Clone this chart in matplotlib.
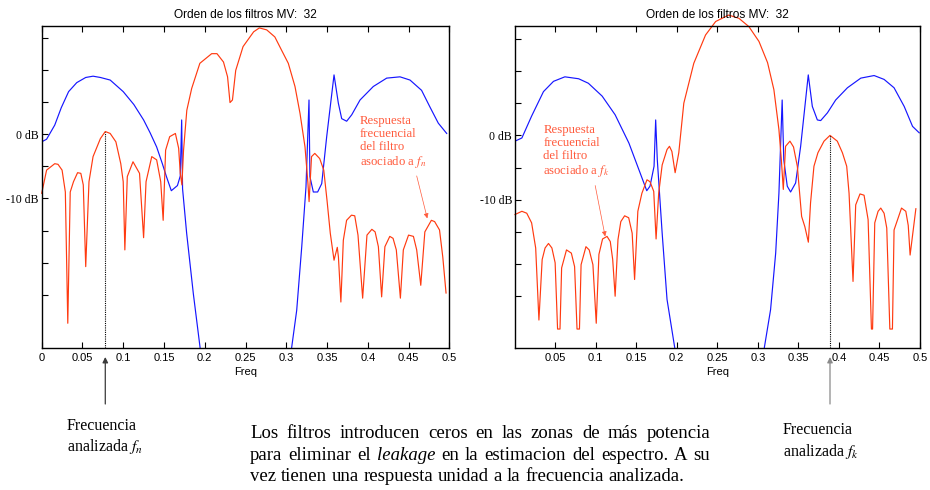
import matplotlib
matplotlib.use("Agg")
import matplotlib.pyplot as plt
import numpy as np

plt.rcParams["font.family"] = "sans-serif"
plt.rcParams["font.sans-serif"] = ["Liberation Sans", "DejaVu Sans"]
plt.rcParams["font.serif"] = ["Liberation Serif", "DejaVu Serif"]
plt.rcParams["mathtext.fontset"] = "stix"

# colores
_RED = "#ff3a10"
_RED_TXT = "#ff5a3c"
_BLUE = "#1616ff"

# ── Datos (frecuencia, dB) ─────────────────────────────────────────────────
blue_left = np.array([
    [0.000, -1.2], [0.006, -0.8], [0.016, 1.4], [0.024, 4.1], [0.033, 6.6],
    [0.043, 8.0], [0.054, 8.8], [0.063, 9.0], [0.072, 8.8], [0.084, 8.4],
    [0.100, 6.6], [0.113, 4.6], [0.125, 2.2], [0.133, 0.2], [0.141, -2.0],
    [0.148, -4.6], [0.153, -6.6], [0.159, -8.8], [0.1665, -8.0], [0.170, -6.5],
    [0.1717, 2.2], [0.1728, -8.5], [0.1778, -15.4], [0.186, -24.8], [0.1942, -33.1],
    [0.197, -37.0], [0.303, -37.0], [0.3067, -33.1], [0.3128, -27.4], [0.319, -17.5],
    [0.3242, -8.2], [0.3279, 5.3], [0.329, -6.6], [0.3332, -9.0], [0.3385, -9.0],
    [0.3435, -7.7], [0.3496, -0.4], [0.3586, 9.2], [0.3639, 4.8], [0.368, 2.4],
    [0.3741, 2.0], [0.3803, 3.0], [0.3905, 5.3], [0.4068, 7.4], [0.4232, 8.7],
    [0.4395, 8.9], [0.4518, 8.4], [0.466, 6.8], [0.4763, 4.2], [0.4865, 1.7],
    [0.4968, 0.1],
])

red_left = np.array([
    [0.000, -9.2], [0.006, -5.6], [0.016, -4.6], [0.020, -4.7], [0.025, -5.6],
    [0.029, -9.0], [0.032, -29.4], [0.035, -9.0], [0.039, -7.4], [0.044, -6.0],
    [0.048, -6.1], [0.051, -7.9], [0.054, -20.6], [0.058, -7.4], [0.063, -3.5],
    [0.072, -0.7], [0.078, 0.4], [0.084, 0.1], [0.091, -1.2], [0.097, -4.6],
    [0.100, -7.4], [0.102, -18.0], [0.105, -6.6], [0.112, -4.3], [0.120, -6.1],
    [0.125, -16.1], [0.128, -7.4], [0.135, -3.5], [0.141, -4.0], [0.146, -7.4],
    [0.149, -13.4], [0.152, -2.5], [0.157, -0.4], [0.164, 0.1], [0.168, -2.2],
    [0.170, -6.1], [0.172, -7.9], [0.174, -2.5], [0.178, 3.7], [0.184, 7.1],
    [0.194, 11.0], [0.2085, 12.5], [0.215, 12.5], [0.223, 11.2], [0.228, 8.9],
    [0.231, 4.9], [0.234, 5.3], [0.238, 9.9], [0.247, 13.6], [0.260, 15.9],
    [0.267, 16.5], [0.276, 16.2], [0.286, 15.1], [0.294, 13.1], [0.3025, 11.0],
    [0.3107, 7.4], [0.3169, 3.2], [0.323, -2.0], [0.3265, -7.5], [0.328, -10.5],
    [0.331, -3.5], [0.335, -3.0], [0.341, -3.8], [0.346, -5.6], [0.350, -10.3],
    [0.354, -15.4], [0.3586, -19.6], [0.3626, -17.6], [0.364, -19.1], [0.367, -26.1],
    [0.370, -16.5], [0.374, -13.4], [0.380, -12.6], [0.384, -12.7], [0.388, -15.7],
    [0.3937, -25.5], [0.399, -15.7], [0.405, -14.8], [0.409, -15.2], [0.413, -17.5],
    [0.417, -25.3], [0.421, -17.5], [0.427, -15.9], [0.431, -16.2], [0.435, -18.0],
    [0.440, -25.5], [0.4436, -18.0], [0.450, -15.7], [0.456, -15.9], [0.460, -18.0],
    [0.465, -23.5], [0.470, -15.2], [0.478, -13.4], [0.482, -13.6], [0.488, -14.9],
    [0.492, -19.1], [0.496, -24.7],
])

blue_right = np.array([
    [0.0005, -0.9], [0.009, -0.4], [0.021, 3.0], [0.0356, 6.8], [0.048, 8.4],
    [0.062, 9.1], [0.079, 8.8], [0.091, 8.1], [0.108, 6.1], [0.124, 3.2],
    [0.141, -1.2], [0.155, -5.9], [0.163, -8.6], [0.167, -7.9], [0.172, -4.8],
    [0.174, 2.4], [0.176, -3.8], [0.182, -15.2], [0.188, -25.5], [0.1975, -33.0],
    [0.200, -37.0], [0.305, -37.0], [0.308, -33.0], [0.3157, -27.1], [0.322, -18.3],
    [0.326, -9.0], [0.330, 5.5], [0.332, -3.8], [0.3363, -7.9], [0.3404, -8.8],
    [0.3466, -7.4], [0.3528, -1.7], [0.3622, 9.4], [0.3672, 4.5], [0.3734, 2.4],
    [0.3775, 2.3], [0.3858, 3.5], [0.396, 5.5], [0.4105, 7.4], [0.427, 8.9],
    [0.4434, 9.3], [0.4557, 8.7], [0.468, 7.4], [0.4805, 4.5], [0.4908, 1.4],
    [0.499, 0.4],
])

red_right = np.array([
    [0.0005, -12.3], [0.009, -11.8], [0.015, -12.1], [0.021, -13.6], [0.026, -17.5],
    [0.030, -28.7], [0.034, -19.3], [0.0376, -17.5], [0.0418, -16.8], [0.046, -17.5],
    [0.050, -19.8], [0.053, -30.1], [0.056, -30.1], [0.058, -20.6], [0.064, -17.8],
    [0.070, -18.3], [0.074, -20.4], [0.077, -30.1], [0.080, -30.1], [0.082, -20.1],
    [0.088, -17.3], [0.092, -17.8], [0.0966, -20.1], [0.1007, -29.2], [0.104, -18.5],
    [0.1085, -16.1], [0.114, -15.7], [0.118, -16.5], [0.121, -19.3], [0.124, -25.0],
    [0.1275, -16.2], [0.131, -13.4], [0.1357, -12.5], [0.1407, -12.8], [0.145, -15.2],
    [0.148, -22.4], [0.152, -11.8], [0.157, -9.0], [0.1633, -6.9], [0.167, -7.2],
    [0.1716, -8.7], [0.1745, -16.1], [0.1777, -9.0], [0.182, -4.6], [0.188, -2.2],
    [0.191, -1.7], [0.194, -2.5], [0.198, -5.8], [0.2025, -2.7], [0.2087, 5.0],
    [0.221, 11.2], [0.2355, 15.6], [0.248, 17.7], [0.264, 18.7], [0.2766, 18.2],
    [0.289, 16.9], [0.3014, 14.6], [0.312, 11.3], [0.3198, 7.1], [0.326, 0.9],
    [0.329, -3.8], [0.3314, -8.4], [0.3342, -1.7], [0.3396, -0.9], [0.344, -1.8],
    [0.3487, -4.8], [0.354, -12.6], [0.358, -14.2], [0.3623, -16.6], [0.365, -10.5],
    [0.3692, -4.8], [0.3741, -2.7], [0.3816, -0.9], [0.389, 0.0], [0.398, -0.9],
    [0.4043, -2.7], [0.4096, -4.8], [0.4125, -9.0], [0.4174, -22.7], [0.4207, -10.8],
    [0.426, -9.1], [0.431, -9.3], [0.436, -13.1], [0.4401, -30.1], [0.4415, -30.1],
    [0.4442, -13.6], [0.4483, -11.8], [0.4516, -11.3], [0.4557, -12.1], [0.459, -14.4],
    [0.4628, -30.1], [0.466, -30.1], [0.468, -14.7], [0.4772, -11.3], [0.4825, -11.8],
    [0.4855, -14.0], [0.4878, -18.6], [0.4949, -11.4],
])

f_n = 0.078   # frecuencia analizada (izquierda)
f_k = 0.389   # frecuencia analizada (derecha)

xticks_left = [0, 0.05, 0.1, 0.15, 0.2, 0.25, 0.3, 0.35, 0.4, 0.45, 0.5]
xticks_right = xticks_left[1:]
yticks = [-25, -20, -15, -10, -5, 0, 5, 10, 15]
ytick_labels = {0: "0 dB", -10: "-10 dB"}

titulo = "Orden de los filtros MV:  32"
parrafo = [
    [("Los", 0), ("filtros", 0), ("introducen", 0), ("ceros", 0), ("en", 0), ("las", 0),
     ("zonas", 0), ("de", 0), ("más", 0), ("potencia", 0)],
    [("para", 0), ("eliminar", 0), ("el", 0), ("leakage", 1), ("en", 0), ("la", 0),
     ("estimacion", 0), ("del", 0), ("espectro.", 0), ("A", 0), ("su", 0)],
    [("vez", 0), ("tienen", 0), ("una", 0), ("respuesta", 0), ("unidad", 0), ("a", 0),
     ("la", 0), ("frecuencia", 0), ("analizada.", 0)],
]

W, H = 930, 490
fig = plt.figure(figsize=(W / 100, H / 100), dpi=100, facecolor="white")


def px_axes(x0, x1, y0, y1):
    # caja en pixeles (origen arriba-izquierda)
    return fig.add_axes([x0 / W, 1 - y1 / H, (x1 - x0) / W, (y1 - y0) / H])


def estilo(ax, xlim, ylim, xt):
    ax.set_xlim(*xlim)
    ax.set_ylim(*ylim)
    ax.set_xticks(xt)
    ax.set_xticklabels([f"{v:g}" for v in xt], fontsize=8)
    ax.set_yticks(yticks)
    ax.set_yticklabels([ytick_labels.get(v, "") for v in yticks],
                       fontsize=8.5, family="serif")
    ax.tick_params(direction="in", length=4, width=0.8, top=True, right=False, pad=4)
    ax.tick_params(axis="y", pad=2)
    for s in ax.spines.values():
        s.set_linewidth(1.0)
        s.set_color("black")
    ax.set_xlabel("Freq", fontsize=8, labelpad=3)
    ax.set_title(titulo, fontsize=8.6, pad=6)


# ── Panel izquierdo ────────────────────────────────────────────────────────
axL = px_axes(41.7, 449.3, 26, 347.7)
estilo(axL, (0, 0.5), (-33.2, 16.8), xticks_left)
axL.plot(blue_left[:, 0], blue_left[:, 1], color=_BLUE, lw=0.85)
axL.plot(red_left[:, 0], red_left[:, 1], color=_RED, lw=0.85, clip_on=False)
pk_n = np.interp(f_n, red_left[:, 0], red_left[:, 1])
axL.vlines(f_n, -33.2, pk_n, colors="black", linestyles=(0, (1, 1)), lw=0.8)
axL.text(0.3905, 3.0, "Respuesta\nfrecuencial\ndel filtro\nasociado a $f_n$",
         family="serif", fontsize=9.2, color=_RED_TXT, va="top", ha="left",
         linespacing=1.1)
axL.annotate("", xy=(0.473, -13.1), xytext=(0.460, -6.5),
             arrowprops=dict(arrowstyle="-|>", color=_RED_TXT, lw=0.5,
                             mutation_scale=7, shrinkA=0, shrinkB=0))

# ── Panel derecho ──────────────────────────────────────────────────────────
axR = px_axes(515, 920, 26, 347.7)
estilo(axR, (0.0005, 0.5), (-33.0, 17.0), xticks_right)
axR.plot(blue_right[:, 0], blue_right[:, 1], color=_BLUE, lw=0.85)
axR.plot(red_right[:, 0], red_right[:, 1], color=_RED, lw=0.85, clip_on=False)
pk_k = np.interp(f_k, red_right[:, 0], red_right[:, 1])
axR.vlines(f_k, -33.0, pk_k, colors="black", linestyles=(0, (1, 1)), lw=0.8)
axR.text(0.0355, 1.8, "Respuesta\nfrecuencial\ndel filtro\nasociado a $f_k$",
         family="serif", fontsize=9.2, color=_RED_TXT, va="top", ha="left",
         linespacing=1.1)
axR.annotate("", xy=(0.1117, -15.7), xytext=(0.0994, -7.8),
             arrowprops=dict(arrowstyle="-|>", color=_RED_TXT, lw=0.5,
                             mutation_scale=7, shrinkA=0, shrinkB=0))

# ── Flechas de frecuencia analizada ────────────────────────────────────────
for ax, f, col in [(axL, f_n, "#3a3a3a"), (axR, f_k, "#8a8a8a")]:
    ax.annotate("", xy=(f, H - 357), xycoords=("data", "figure pixels"),
                xytext=(f, H - 404), textcoords=("data", "figure pixels"),
                arrowprops=dict(arrowstyle="-|>", color=col, lw=0.9,
                                mutation_scale=8, shrinkA=0, shrinkB=0),
                annotation_clip=False)

fig.text(66.7 / W, 1 - 426 / H, "Frecuencia", family="serif", fontsize=11.5,
         va="center", ha="left")
fig.text(66.7 / W, 1 - 447 / H, "analizada $f_n$", family="serif", fontsize=11.5,
         va="center", ha="left")
fig.text(783 / W, 1 - 430 / H, "Frecuencia", family="serif", fontsize=11.5,
         va="center", ha="left")
fig.text(783 / W, 1 - 451 / H, "analizada $f_k$", family="serif", fontsize=11.5,
         va="center", ha="left")

# ── Párrafo justificado ────────────────────────────────────────────────────
renderer = fig.canvas.get_renderer()
x_ini, x_fin = 250, 710
for i, (linea, y) in enumerate(zip(parrafo, [433, 455, 476])):
    arts = [fig.text(0, 1 - y / H, w, family="serif", fontsize=13.5,
                     style="italic" if it else "normal", va="center", ha="left")
            for w, it in linea]
    anchos = [a.get_window_extent(renderer).width for a in arts]
    if i < len(parrafo) - 1:
        hueco = (x_fin - x_ini - sum(anchos)) / (len(arts) - 1)
    else:
        hueco = 13.5 * 100 / 72 * 0.25
    x = x_ini
    for a, w in zip(arts, anchos):
        a.set_x(x / W)
        x += w + hueco

fig.savefig("out.png", dpi=100, facecolor="white")
